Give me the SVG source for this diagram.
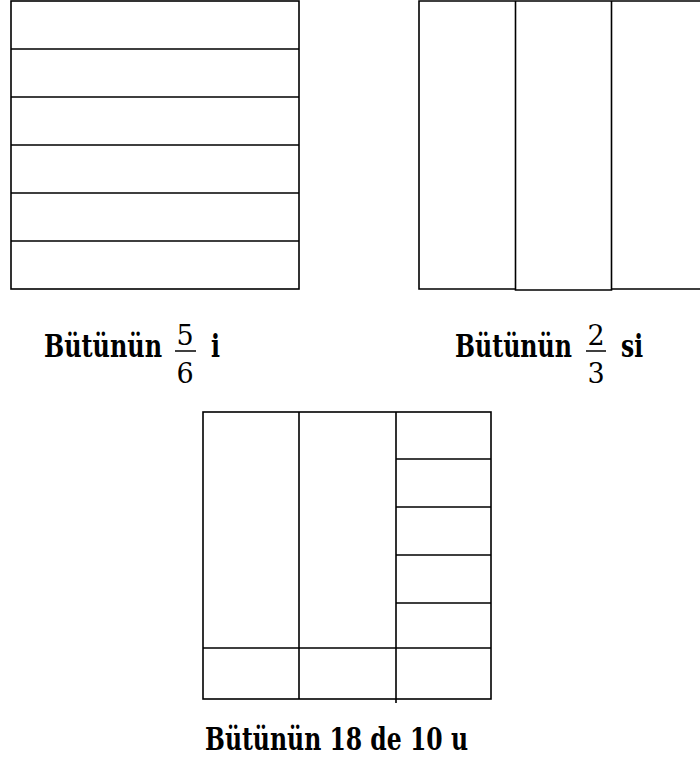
<svg xmlns="http://www.w3.org/2000/svg" width="700" height="762" viewBox="0 0 700 762">
<style>
.ln{stroke:#000;stroke-width:1.6;fill:none}
.lb{font-family:'DejaVu Serif','Liberation Serif',serif;font-weight:bold;font-size:31px;fill:#000}
.fr{font-family:'DejaVu Serif','Liberation Serif',serif;font-size:27px;fill:#000;text-anchor:middle}
</style>
<rect width="700" height="762" fill="#fff"/>
<g id="box1">
<rect class="ln" x="11" y="1" width="288" height="288"/>
<path class="ln" d="M11 49H299M11 97H299M11 145H299M11 193H299M11 241H299"/>
</g>
<g id="box2">
<path class="ln" d="M702 1H419V289H515.5M611.5 289H702M515.5 1V290H611.5V1"/>
</g>
<g id="box3">
<rect class="ln" x="203" y="412" width="288" height="287"/>
<path class="ln" d="M299 412V699M396 412V703M396 459H491M396 507H491M396 555H491M396 603H491M203 648H491"/>
</g>
<g id="label1">
<text class="lb" x="44" y="357" textLength="118" lengthAdjust="spacingAndGlyphs">Bütünün</text>
<text class="fr" x="185" y="345">5</text>
<line x1="175" y1="351" x2="196" y2="351" stroke="#000" stroke-width="1.5"/>
<text class="fr" x="185" y="383">6</text>
<text class="lb" x="211" y="357" textLength="9" lengthAdjust="spacingAndGlyphs">i</text>
</g>
<g id="label2">
<text class="lb" x="455" y="357" textLength="117" lengthAdjust="spacingAndGlyphs">Bütünün</text>
<text class="fr" x="596" y="345">2</text>
<line x1="586" y1="351" x2="606" y2="351" stroke="#000" stroke-width="1.5"/>
<text class="fr" x="596" y="383">3</text>
<text class="lb" x="621" y="357" textLength="22" lengthAdjust="spacingAndGlyphs">si</text>
</g>
<g id="label3">
<text class="lb" x="205" y="750" textLength="263" lengthAdjust="spacingAndGlyphs">Bütünün 18 de 10 u</text>
</g>
</svg>
